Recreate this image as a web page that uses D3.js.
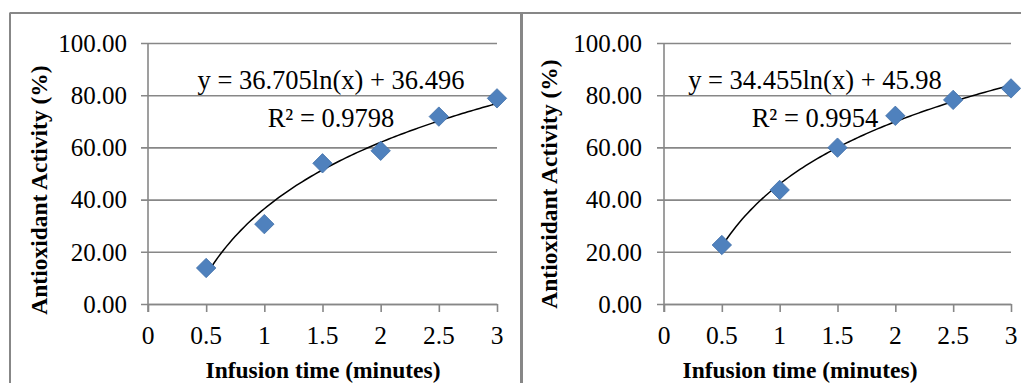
<!DOCTYPE html>
<html>
<head>
<meta charset="utf-8">
<script src="https://cdn.jsdelivr.net/npm/d3@7"></script>
<style>
  html, body { margin: 0; padding: 0; background: #fff; }
  svg { display: block; }
  svg text { font-family: "Times New Roman", "Liberation Serif", Tinos, "DejaVu Serif", serif; fill: #000; }
</style>
</head>
<body>
<svg id="chart" width="1021" height="383"></svg>
<script>
// Infusion time (minutes) and antioxidant activity (%) for the two samples
const times = [0.5, 1, 1.5, 2, 2.5, 3];
const activityA = [13.8, 30.6, 53.9, 58.7, 71.8, 78.8];
const activityB = [22.6, 43.7, 59.9, 72.1, 78.2, 82.6];

// Logarithmic trendline fits: y = a*ln(x) + b
const fitA = { a: 36.705, b: 36.496, r2: "0.9798" };
const fitB = { a: 34.455, b: 45.98, r2: "0.9954" };

const xTicks = [0, 0.5, 1, 1.5, 2, 2.5, 3];
const yTicks = [0, 20, 40, 60, 80, 100];

const yTitle = "Antioxidant Activity (%)";
const xTitle = "Infusion time (minutes)";

const svg = d3.select("#chart");
const gridColor = "#878787";

// Outer frame: left edge, top edge and the divider between the panels
svg.append("line").attr("x1", 10).attr("x2", 10).attr("y1", 12.5).attr("y2", 383)
  .attr("stroke", gridColor).attr("stroke-width", 2);
svg.append("line").attr("x1", 10).attr("x2", 1021).attr("y1", 13).attr("y2", 13)
  .attr("stroke", gridColor).attr("stroke-width", 2);
svg.append("line").attr("x1", 521.5).attr("x2", 521.5).attr("y1", 12).attr("y2", 383)
  .attr("stroke", gridColor).attr("stroke-width", 3);

function panel(cfg) {
  const x = d3.scaleLinear().domain([0, 3]).range([cfg.left, cfg.right]);
  const y = d3.scaleLinear().domain([0, 100]).range([304, 43]);
  const g = svg.append("g");

  // horizontal gridlines with outside tick stubs
  g.append("g")
    .attr("transform", `translate(${cfg.left},0)`)
    .call(d3.axisLeft(y).tickValues(yTicks).tickSize(-(cfg.right - cfg.left)).tickSizeOuter(0).tickFormat(""))
    .call(a => a.select(".domain").remove())
    .call(a => a.selectAll(".tick line").attr("stroke", gridColor).attr("stroke-width", 1.6)
      .attr("x1", -7));

  // y tick labels
  g.append("g").selectAll("text").data(yTicks).join("text")
    .attr("x", cfg.labelRight)
    .attr("y", d => y(d))
    .attr("dy", "0.35em")
    .attr("text-anchor", "end")
    .style("font-size", "25px")
    .text(d => d3.format(".2f")(d));

  // vertical axis line
  g.append("line")
    .attr("x1", cfg.left).attr("x2", cfg.left)
    .attr("y1", y(100)).attr("y2", y(0) + 8)
    .attr("stroke", gridColor).attr("stroke-width", 1.6);

  // x axis with downward ticks
  g.append("g")
    .attr("transform", `translate(0,${y(0)})`)
    .call(d3.axisBottom(x).tickValues(xTicks).tickSize(8).tickSizeOuter(0).tickFormat(""))
    .call(a => a.select(".domain").attr("stroke", gridColor).attr("stroke-width", 1.6))
    .call(a => a.selectAll(".tick line").attr("stroke", gridColor).attr("stroke-width", 1.6));

  g.append("g").selectAll("text").data(xTicks).join("text")
    .attr("x", d => x(d))
    .attr("y", 335)
    .attr("dy", "0.35em")
    .attr("text-anchor", "middle")
    .style("font-size", "25.5px")
    .text(d => String(d));

  // axis titles
  g.append("text")
    .attr("transform", `translate(${cfg.yTitleX},${cfg.yTitleY}) rotate(-90)`)
    .attr("text-anchor", "middle")
    .attr("dy", "0.35em")
    .style("font-size", "23.5px").style("font-weight", "bold")
    .text(yTitle);
  g.append("text")
    .attr("x", cfg.xTitleX).attr("y", 370)
    .attr("dy", "0.35em")
    .attr("text-anchor", "middle")
    .style("font-size", "23.5px").style("font-weight", "bold")
    .text(xTitle);

  // logarithmic trendline from the fitted equation
  const xs = d3.range(0.5, 3.0001, 0.025);
  const line = d3.line().x(d => x(d)).y(d => y(cfg.fit.a * Math.log(d) + cfg.fit.b));
  g.append("path").datum(xs)
    .attr("d", line)
    .attr("fill", "none").attr("stroke", "#000").attr("stroke-width", 1.5);

  // diamond markers
  const diamond = d3.symbol().type(d3.symbolDiamond2).size(240);
  g.append("g").selectAll("path").data(times).join("path")
    .attr("transform", (d, i) => `translate(${x(d)},${y(cfg.values[i])})`)
    .attr("d", diamond)
    .attr("fill", "#4f81bd").attr("stroke", "#3f6fa8").attr("stroke-width", 0.8);

  // equation and R² label
  g.append("text")
    .attr("x", cfg.eqX).attr("y", 80).attr("dy", "0.35em")
    .attr("text-anchor", "middle")
    .style("font-size", "26.5px")
    .text(`y = ${cfg.fit.a}ln(x) + ${cfg.fit.b}`);
  g.append("text")
    .attr("x", cfg.eqX).attr("y", 118).attr("dy", "0.35em")
    .attr("text-anchor", "middle")
    .style("font-size", "26.5px")
    .text(`R² = ${cfg.fit.r2}`);
}

panel({ left: 148, right: 497, labelRight: 127, values: activityA, fit: fitA,
  yTitleX: 39, yTitleY: 190, xTitleX: 323, eqX: 331 });
panel({ left: 664, right: 1011, labelRight: 642, values: activityB, fit: fitB,
  yTitleX: 549, yTitleY: 184, xTitleX: 800, eqX: 815 });
</script>
</body>
</html>
